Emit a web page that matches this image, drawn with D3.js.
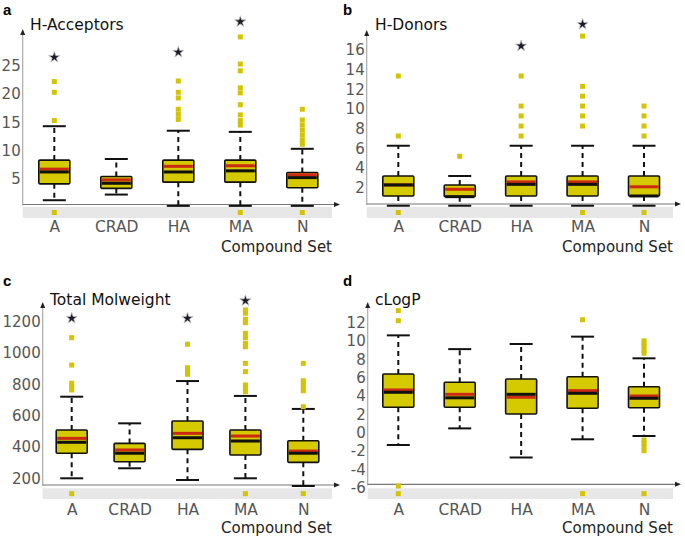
<!DOCTYPE html>
<html><head><meta charset="utf-8">
<script src="https://cdn.jsdelivr.net/npm/d3@7"></script>
<style>
html,body{margin:0;padding:0;background:#fff;}
svg{display:block;font-family:"DejaVu Sans",sans-serif;}
</style></head>
<body>
<svg id="chart" width="685" height="539"></svg>
<script>
const categories = ["A","CRAD","HA","MA","N"];

// Panel a: H-Acceptors
const accTicks = [5,10,15,20,25];
const accLo   = [1.2, 2.2, 0.2, 0.2, 0.2];
const accQ1   = [4.1, 3.3, 4.4, 4.4, 3.4];
const accMed  = [6.2, 4.2, 6.2, 6.4, 5.2];
const accMean = [6.7, 4.8, 7.2, 7.3, 5.7];
const accQ3   = [8.3, 5.4, 8.3, 8.3, 6.1];
const accHi   = [14.3, 8.5, 13.5, 13.3, 10.3];
const accOut  = [[15.3,20.3,22.2],[],[15.5,16.4,17.3,19.3,20.3,22.3],
                 [14.5,15.3,16.3,18.1,20.2,21.1,24.1,25.3,30.1],
                 [11.1,11.8,12.7,13.6,14.5,15.4,17.3]];
const accStar = [26.5, null, 27.4, 32.8, null];
const accBand = [1,0,0,1,1];

// Panel b: H-Donors
const donTicks = [2,4,6,8,10,12,14,16];
const donLo   = [0.18,0.18,0.18,0.18,0.18];
const donQ1   = [1.17,1.1,1.17,1.17,1.17];
const donMed  = [2.29,1.1,2.35,2.35,1.17];
const donMean = [2.29,1.85,2.6,2.6,2.1];
const donQ3   = [3.2,2.28,3.2,3.2,3.2];
const donHi   = [6.27,3.2,6.27,6.27,6.27];
const donOut  = [[7.26,13.35],[5.2],[7.26,8.27,9.3,10.3,13.35],
                 [8.27,9.3,10.3,11.3,12.3,17.4],[7.26,8.27,9.3,10.3]];
const donStar = [null,null,16.4,18.6,null];
const donBand = [1,0,0,1,1];

// Panel c: Total Molweight
const mwTicks = [200,400,600,800,1000,1200];
const mwLo   = [200,264,189,200,151];
const mwQ1   = [360,306,385,349,302];
const mwMed  = [430,360,459,438,360];
const mwMean = [455,381,487,470,374];
const mwQ3   = [508,423,566,508,440];
const mwHi   = [721,551,821,726,643];
const mwOut  = [[764,785,807,923,1098],[],[864,885,906,1056],
                [753,775,796,881,934,1040,1062,1098,1126,1194,1215,1254,1275],
                [657,759,781,802,823,934]];
const mwStar = [1222,null,1222,1334,null];
const mwBand = [1,0,0,1,1];

// Panel d: cLogP
const lpTicks = [-6,-4,-2,0,2,4,6,8,10,12];
const lpLo   = [-1.34,0.47,-2.7,-0.72,-0.36];
const lpQ1   = [2.77,2.77,2.04,2.66,2.72];
const lpMed  = [4.4,3.8,4.18,4.29,3.75];
const lpMean = [4.65,4.18,3.86,4.58,4.0];
const lpQ3   = [6.4,5.5,5.85,6.1,5.0];
const lpHi   = [10.6,9.1,9.66,10.46,8.1];
const lpOut  = [[-5.8,12.2,13.3],[],[],[12.3],[-1.96,-1.5,-1.15,-0.8,8.65,9.0,9.4,9.7,10.0]];
const lpStar = [null,null,null,null,null];
const lpBand = [1,0,0,1,1];

const panels = [
  {letter:"a", title:"H-Acceptors", lx:3, ly:15, tx:30, ty:30,
   axisX:22.7, axisY:204.5, top:30, right:340, bandR:332, bandY:[207,218],
   xr:[54.3,302.3], yd:[0,25], yr:[207,65.75], ticks:accTicks, catY:235, csY:252,
   lo:accLo,q1:accQ1,med:accMed,mean:accMean,q3:accQ3,hi:accHi,out:accOut,star:accStar,band:accBand},
  {letter:"b", title:"H-Donors", lx:343, ly:15, tx:375, ty:30,
   axisX:366.7, axisY:204, top:31, right:681, bandR:673, bandY:[207,218],
   xr:[398.3,644], yd:[0,16], yr:[207.5,49.9], ticks:donTicks, catY:235, csY:252,
   lo:donLo,q1:donQ1,med:donMed,mean:donMean,q3:donQ3,hi:donHi,out:donOut,star:donStar,band:donBand},
  {letter:"c", title:"Total Molweight", lx:3, ly:286, tx:50, ty:305,
   axisX:42.7, axisY:485, top:303, right:340, bandR:332, bandY:[488.3,499],
   xr:[71.7,303.3], yd:[200,1200], yr:[478.3,321.7], ticks:mwTicks, catY:518, csY:533,
   lo:mwLo,q1:mwQ1,med:mwMed,mean:mwMean,q3:mwQ3,hi:mwHi,out:mwOut,star:mwStar,band:mwBand},
  {letter:"d", title:"cLogP", lx:343, ly:286, tx:375, ty:305,
   axisX:367.7, axisY:484.3, top:303, right:681, bandR:673, bandY:[488.3,499],
   xr:[398.3,644], yd:[-6,12], yr:[487.8,322.5], ticks:lpTicks, catY:518, csY:533,
   lo:lpLo,q1:lpQ1,med:lpMed,mean:lpMean,q3:lpQ3,hi:lpHi,out:lpOut,star:lpStar,band:lpBand}
];

const svg = d3.select("#chart");
const boxFill = "#d5c900", outFill = "#d4c400", meanCol = "#cc2a12";
const boxW = 31, capW = 23;

panels.forEach(p => {
  const g = svg.append("g");
  const x = d3.scalePoint().domain(categories).range(p.xr);
  const y = d3.scaleLinear().domain(p.yd).range(p.yr);

  // grey band
  g.append("rect").attr("x", p.axisX).attr("y", p.bandY[0])
    .attr("width", p.bandR - p.axisX).attr("height", p.bandY[1]-p.bandY[0])
    .attr("fill", "#e7e7e7");

  // y axis line + arrow
  g.append("line").attr("x1", p.axisX).attr("x2", p.axisX).attr("y1", p.axisY+1).attr("y2", p.top+3)
    .attr("stroke", "#aaa").attr("stroke-width", 1.2);
  g.append("path").attr("d", `M${p.axisX-2.5},${p.top+5}L${p.axisX},${p.top-1}L${p.axisX+2.5},${p.top+5}Z`).attr("fill","#222");
  // x axis line + arrow
  g.append("line").attr("x1", p.axisX).attr("x2", p.right-4).attr("y1", p.axisY).attr("y2", p.axisY)
    .attr("stroke", "#777").attr("stroke-width", 1.2);
  g.append("path").attr("d", `M${p.right-6},${p.axisY-2.5}L${p.right},${p.axisY}L${p.right-6},${p.axisY+2.5}Z`).attr("fill","#222");

  // y tick labels via axis
  const ax = d3.axisLeft(y).tickValues(p.ticks).tickSize(0).tickPadding(2)
    .tickFormat(d => String(d));
  const axg = g.append("g").attr("transform", `translate(${p.axisX},0)`).call(ax);
  axg.select(".domain").remove();
  axg.selectAll("text").attr("font-size", 15).attr("fill", "#555")
    .attr("font-family", "DejaVu Sans, sans-serif");

  // x category labels via axis
  const bx = d3.axisBottom(x).tickSize(0).tickPadding(0);
  const bxg = g.append("g").attr("transform", `translate(0,${p.catY-15})`).call(bx);
  bxg.select(".domain").remove();
  bxg.selectAll("text").attr("font-size", 15.5).attr("fill", "#555").attr("dy", "0.75em")
    .attr("font-family", "DejaVu Sans, sans-serif");

  g.append("text").attr("x", p.bandR).attr("y", p.csY).attr("text-anchor", "end")
    .attr("font-size", 15).attr("fill", "#222").text("Compound Set");
  g.append("text").attr("x", p.tx).attr("y", p.ty).attr("font-size", 15.5).attr("fill", "#111").text(p.title);
  g.append("text").attr("x", p.lx).attr("y", p.ly).attr("font-size", 15).attr("font-weight", "bold")
    .attr("font-family", "Liberation Sans, Arial, sans-serif").attr("fill", "#000").text(p.letter);

  categories.forEach((c, i) => {
    const cx = x(c);
    const bg = g.append("g");
    // whiskers
    [[p.q3[i], p.hi[i]], [p.q1[i], p.lo[i]]].forEach(([a, b]) => {
      bg.append("line").attr("x1", cx).attr("x2", cx).attr("y1", y(a)).attr("y2", y(b))
        .attr("stroke", "#111").attr("stroke-width", 2).attr("stroke-dasharray", "5,4");
      bg.append("line").attr("x1", cx - capW/2).attr("x2", cx + capW/2).attr("y1", y(b)).attr("y2", y(b))
        .attr("stroke", "#111").attr("stroke-width", 2);
    });
    // box
    bg.append("rect").attr("x", cx - boxW/2).attr("y", y(p.q3[i]))
      .attr("width", boxW).attr("height", y(p.q1[i]) - y(p.q3[i]))
      .attr("fill", boxFill).attr("stroke", "#111").attr("stroke-width", 1.6).attr("rx", 1);
    // mean (red) then median (black)
    bg.append("line").attr("x1", cx - boxW/2 + 1).attr("x2", cx + boxW/2 - 1)
      .attr("y1", y(p.mean[i])).attr("y2", y(p.mean[i])).attr("stroke", meanCol).attr("stroke-width", 3);
    bg.append("line").attr("x1", cx - boxW/2 + 1).attr("x2", cx + boxW/2 - 1)
      .attr("y1", y(p.med[i])).attr("y2", y(p.med[i])).attr("stroke", "#111").attr("stroke-width", 3);
    // outliers
    p.out[i].forEach(v => {
      bg.append("rect").attr("x", cx - 2.5).attr("y", y(v) - 2.5).attr("width", 5).attr("height", 5).attr("fill", outFill);
    });
    if (p.band[i]) {
      const by = (p.bandY[0] + p.bandY[1]) / 2;
      bg.append("rect").attr("x", cx - 2.5).attr("y", by - 2.5).attr("width", 5).attr("height", 5).attr("fill", outFill);
    }
    if (p.star[i] != null) {
      bg.append("path").attr("d", d3.symbol(d3.symbolStar, 40)())
        .attr("transform", `translate(${cx},${y(p.star[i])})`)
        .attr("fill", "#1b1b2a").attr("stroke", "#c8c8c8").attr("stroke-width", 0.8);
    }
  });
});
</script>
</body></html>
